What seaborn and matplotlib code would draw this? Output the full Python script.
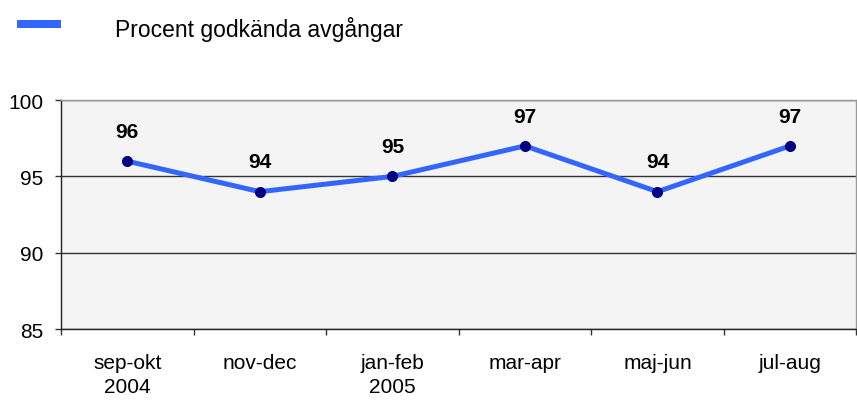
import numpy as np
import pandas as pd
import matplotlib
matplotlib.use("Agg")
import matplotlib.pyplot as plt
import seaborn as sns

# data
periods = ["sep-okt\n2004", "nov-dec", "jan-feb\n2005", "mar-apr", "maj-jun", "jul-aug"]
procent = [96, 94, 95, 97, 94, 97]
series_name = "Procent godkända avgångar"

df = pd.DataFrame({"pos": np.arange(len(periods)), "procent": procent})

sns.set_style("white")
plt.rcParams["font.family"] = ["Liberation Sans", "DejaVu Sans"]
plt.rcParams["text.color"] = "black"
plt.rcParams["xtick.labelcolor"] = "black"
plt.rcParams["ytick.labelcolor"] = "black"

fig = plt.figure(figsize=(8.57, 4.06), dpi=100)
ax = fig.add_axes([0.0712, 0.187, 0.928, 0.564])
ax.set_facecolor("#f4f4f4")

sns.lineplot(data=df, x="pos", y="procent", ax=ax, color="#3366ff", linewidth=3.6,
             marker="o", markersize=7.2, markerfacecolor="#000080",
             markeredgecolor="#000080", zorder=3)

for x, v in zip(df["pos"], df["procent"]):
    ax.annotate(str(v), (x, v), xytext=(0, 21.5), textcoords="offset points",
                ha="center", va="center", fontsize=15, fontweight="bold")

ax.set_xlim(-0.5, len(periods) - 0.5)
ax.set_ylim(85, 100)
ax.set_yticks([85, 90, 95, 100])
ax.yaxis.grid(True, color="#333333", linewidth=1)
ax.set_axisbelow(True)

# ticks at category boundaries, labels at centres
ax.set_xticks(np.arange(len(periods) + 1) - 0.5)
ax.set_xticklabels([])
ax.set_xticks(np.arange(len(periods)), minor=True)
ax.set_xticklabels(periods, minor=True, linespacing=1.35)
ax.tick_params(axis="x", which="major", bottom=True, direction="out", length=4.3,
               width=1, color="#333333")
ax.tick_params(axis="x", which="minor", bottom=True, length=0, pad=17, labelsize=15)
ax.tick_params(axis="y", left=True, direction="out", length=4.3, width=1, color="#333333",
               labelsize=15, pad=8.6)
ax.set_xlabel("")
ax.set_ylabel("")

for s in ["left", "bottom"]:
    ax.spines[s].set_color("#222222")
    ax.spines[s].set_linewidth(1)
for s in ["top", "right"]:
    ax.spines[s].set_color("#999999")
    ax.spines[s].set_linewidth(1)

# legend drawn as in the original: a short bar then the text
fig.lines.append(plt.Line2D([17 / 857, 61 / 857], [1 - 25 / 406, 1 - 25 / 406],
                            transform=fig.transFigure, color="#3366ff", linewidth=5.8,
                            solid_capstyle="butt"))
fig.text(115 / 857, 1 - 30 / 406, series_name, fontsize=16.5, va="center", ha="left")

fig.savefig("out.png", dpi=100)
